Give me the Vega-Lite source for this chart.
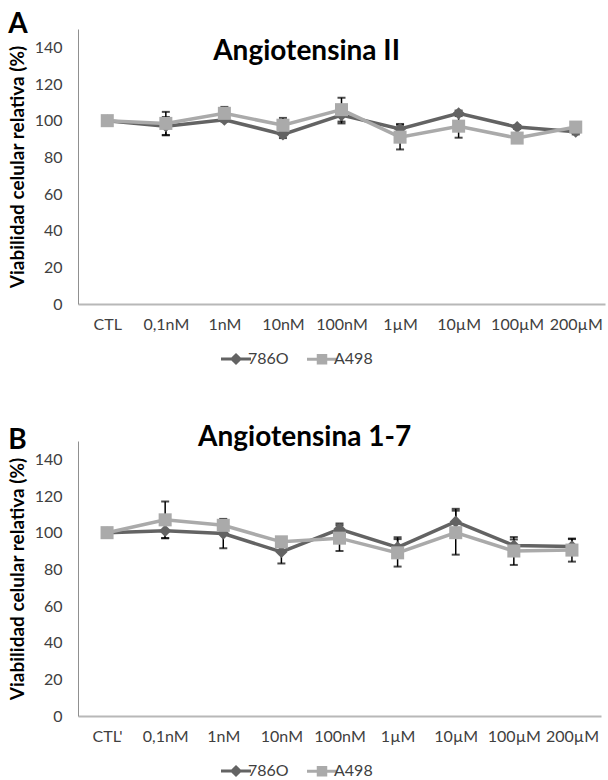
{
  "$schema": "https://vega.github.io/schema/vega-lite/v6.json",
  "padding": {"left": 8, "top": 11, "right": 2, "bottom": 0},
  "background": "white",
  "config": {
    "font": "Lato",
    "view": {"stroke": null},
    "axis": {"labelFont": "Lato", "labelFontSize": 16, "labelColor": "#404040", "ticks": false, "grid": false, "domainColor": "#a0a0a0", "domainWidth": 1.5},
    "legend": {"labelFont": "Lato", "labelFontSize": 16, "labelColor": "#404040"}
  },
  "datasets": {
    "a": [
      {"conc": "CTL", "serie": "786O", "v": 100, "e": 0},
      {"conc": "0,1nM", "serie": "786O", "v": 97, "e": 5},
      {"conc": "1nM", "serie": "786O", "v": 100.5, "e": 1},
      {"conc": "10nM", "serie": "786O", "v": 92.5, "e": 2},
      {"conc": "100nM", "serie": "786O", "v": 103, "e": 4.5},
      {"conc": "1µM", "serie": "786O", "v": 95.5, "e": 2.7},
      {"conc": "10µM", "serie": "786O", "v": 104, "e": 1.5},
      {"conc": "100µM", "serie": "786O", "v": 96.5, "e": 1},
      {"conc": "200µM", "serie": "786O", "v": 94, "e": 1.5},
      {"conc": "CTL", "serie": "A498", "v": 100, "e": 0},
      {"conc": "0,1nM", "serie": "A498", "v": 98.5, "e": 6.3},
      {"conc": "1nM", "serie": "A498", "v": 104, "e": 3.5},
      {"conc": "10nM", "serie": "A498", "v": 97.5, "e": 4},
      {"conc": "100nM", "serie": "A498", "v": 106, "e": 6.5},
      {"conc": "1µM", "serie": "A498", "v": 91, "e": 6.7},
      {"conc": "10µM", "serie": "A498", "v": 97, "e": 6.3},
      {"conc": "100µM", "serie": "A498", "v": 90.5, "e": 0.5},
      {"conc": "200µM", "serie": "A498", "v": 96.5, "e": 0.5}
    ],
    "b": [
      {"conc": "CTL'", "serie": "786O", "v": 100, "e": 0},
      {"conc": "0,1nM", "serie": "786O", "v": 101, "e": 4},
      {"conc": "1nM", "serie": "786O", "v": 99.5, "e": 8},
      {"conc": "10nM", "serie": "786O", "v": 89.5, "e": 6.3},
      {"conc": "100nM", "serie": "786O", "v": 102, "e": 3},
      {"conc": "1µM", "serie": "786O", "v": 92, "e": 5.5},
      {"conc": "10µM", "serie": "786O", "v": 106, "e": 7},
      {"conc": "100µM", "serie": "786O", "v": 93, "e": 3.3},
      {"conc": "200µM", "serie": "786O", "v": 92.5, "e": 4},
      {"conc": "CTL'", "serie": "A498", "v": 100, "e": 0},
      {"conc": "0,1nM", "serie": "A498", "v": 107, "e": 10},
      {"conc": "1nM", "serie": "A498", "v": 104, "e": 3},
      {"conc": "10nM", "serie": "A498", "v": 95, "e": 2},
      {"conc": "100nM", "serie": "A498", "v": 97, "e": 7},
      {"conc": "1µM", "serie": "A498", "v": 89, "e": 7.5},
      {"conc": "10µM", "serie": "A498", "v": 100, "e": 12},
      {"conc": "100µM", "serie": "A498", "v": 90, "e": 7.6},
      {"conc": "200µM", "serie": "A498", "v": 90.5, "e": 6.3}
    ]
  },
  "resolve": {"scale": {"color": "independent", "x": "independent", "y": "independent"}, "legend": {"color": "independent"}},
  "spacing": 55,
  "vconcat": [
    {
      "title": {"text": "A", "anchor": "start", "frame": "bounds", "fontSize": 28, "fontWeight": "bold", "font": "Lato", "color": "black", "offset": -10},
      "vconcat": [
        {
          "title": {"text": "Angiotensina II", "anchor": "middle", "frame": "bounds", "fontSize": 28, "fontWeight": "bold", "font": "Lato", "color": "black", "offset": -37},
          "width": 527,
          "height": 275,
          "data": {"name": "a"},
          "encoding": {
            "x": {"field": "conc", "type": "ordinal", "sort": ["CTL", "0,1nM", "1nM", "10nM", "100nM", "1µM", "10µM", "100µM", "200µM"], "scale": {"type": "point", "padding": 0.5}, "axis": {"title": null, "labelAngle": 0, "labelPadding": 12, "domainColor": "#b8b8b8", "domainWidth": 2}},
            "y": {"field": "v", "type": "quantitative", "scale": {"domain": [0, 150], "nice": false}, "axis": {"values": [0, 20, 40, 60, 80, 100, 120, 140], "title": "Viabilidad celular relativa (%)", "titleFontSize": 19, "titleFontWeight": "bold", "titleColor": "black", "titlePadding": 7, "labelPadding": 16, "domainColor": "#909090", "domainWidth": 1}}
          },
          "layer": [
            {
              "transform": [{"filter": "datum.e > 0"}],
              "mark": {"type": "errorbar", "color": "black", "ticks": {"size": 8, "thickness": 2, "color": "black"}, "rule": {"strokeWidth": 1.5}},
              "encoding": {"yError": {"field": "e"}}
            },
            {
              "mark": {"type": "line", "strokeWidth": 3.5},
              "encoding": {
                "color": {"field": "serie", "type": "nominal", "scale": {"domain": ["786O", "A498"], "range": ["#636363", "#aaaaaa"]},
                  "legend": {"title": null, "orient": "none", "legendX": 150, "legendY": 322, "direction": "horizontal", "columnPadding": 12, "symbolSize": 100,
                    "encode": {"symbols": {"update": {"shape": {"signal": "datum.value === '786O' ? 'M-3,0H3M0,-0.8L0.8,0L0,0.8L-0.8,0Z' : 'M-3,0H3M-0.75,-0.75H0.75V0.75H-0.75Z'"}, "fill": {"signal": "datum.value === '786O' ? '#636363' : '#aaaaaa'"}, "stroke": {"signal": "datum.value === '786O' ? '#636363' : '#aaaaaa'"}, "strokeWidth": {"value": 3}, "opacity": {"value": 1}, "fillOpacity": {"value": 1}}}}}}
              }
            },
            {
              "transform": [{"filter": "datum.serie === '786O'"}],
              "mark": {"type": "point", "filled": true, "opacity": 1, "shape": "diamond", "color": "#636363", "size": 150}
            },
            {
              "transform": [{"filter": "datum.serie === 'A498'"}],
              "mark": {"type": "point", "filled": true, "opacity": 1, "shape": "square", "color": "#aaaaaa", "size": 170}
            }
          ]
        }
      ]
    },
    {
      "title": {"text": "B", "anchor": "start", "frame": "bounds", "fontSize": 28, "fontWeight": "bold", "font": "Lato", "color": "black", "offset": -31},
      "vconcat": [
        {
          "title": {"text": "Angiotensina 1-7", "anchor": "middle", "frame": "bounds", "fontSize": 28, "fontWeight": "bold", "font": "Lato", "color": "black", "offset": -11},
          "width": 523,
          "height": 275,
          "data": {"name": "b"},
          "encoding": {
            "x": {"field": "conc", "type": "ordinal", "sort": ["CTL'", "0,1nM", "1nM", "10nM", "100nM", "1µM", "10µM", "100µM", "200µM"], "scale": {"type": "point", "padding": 0.5}, "axis": {"title": null, "labelAngle": 0, "labelPadding": 12, "domainColor": "#b8b8b8", "domainWidth": 2}},
            "y": {"field": "v", "type": "quantitative", "scale": {"domain": [0, 150], "nice": false}, "axis": {"values": [0, 20, 40, 60, 80, 100, 120, 140], "title": "Viabilidad celular relativa (%)", "titleFontSize": 19, "titleFontWeight": "bold", "titleColor": "black", "titlePadding": 7, "labelPadding": 16, "domainColor": "#909090", "domainWidth": 1}}
          },
          "layer": [
            {
              "transform": [{"filter": "datum.e > 0"}],
              "mark": {"type": "errorbar", "color": "black", "ticks": {"size": 8, "thickness": 2, "color": "black"}, "rule": {"strokeWidth": 1.5}},
              "encoding": {"yError": {"field": "e"}}
            },
            {
              "mark": {"type": "line", "strokeWidth": 3.5},
              "encoding": {
                "color": {"field": "serie", "type": "nominal", "scale": {"domain": ["786O", "A498"], "range": ["#636363", "#aaaaaa"]},
                  "legend": {"title": null, "orient": "none", "legendX": 150, "legendY": 322, "direction": "horizontal", "columnPadding": 12, "symbolSize": 100,
                    "encode": {"symbols": {"update": {"shape": {"signal": "datum.value === '786O' ? 'M-3,0H3M0,-0.8L0.8,0L0,0.8L-0.8,0Z' : 'M-3,0H3M-0.75,-0.75H0.75V0.75H-0.75Z'"}, "fill": {"signal": "datum.value === '786O' ? '#636363' : '#aaaaaa'"}, "stroke": {"signal": "datum.value === '786O' ? '#636363' : '#aaaaaa'"}, "strokeWidth": {"value": 3}, "opacity": {"value": 1}, "fillOpacity": {"value": 1}}}}}}
              }
            },
            {
              "transform": [{"filter": "datum.serie === '786O'"}],
              "mark": {"type": "point", "filled": true, "opacity": 1, "shape": "diamond", "color": "#636363", "size": 150}
            },
            {
              "transform": [{"filter": "datum.serie === 'A498'"}],
              "mark": {"type": "point", "filled": true, "opacity": 1, "shape": "square", "color": "#aaaaaa", "size": 170}
            }
          ]
        }
      ]
    }
  ]
}
